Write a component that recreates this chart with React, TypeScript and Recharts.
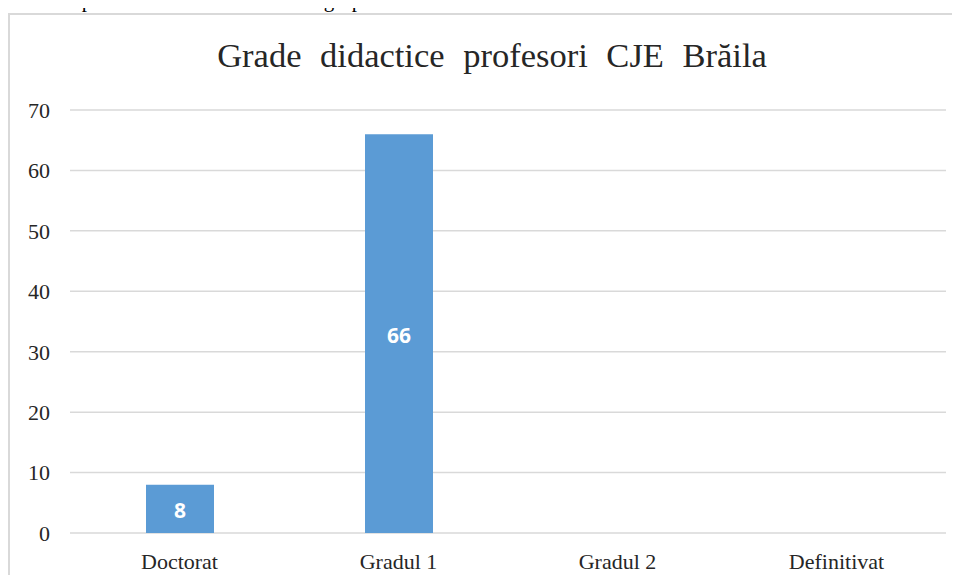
import React from "react";
import { BarChart, Bar, XAxis, YAxis, CartesianGrid, LabelList } from "recharts";

const categories = ["Doctorat", "Gradul 1", "Gradul 2", "Definitivat"];
const values = [8, 66, 0, 0];
const yTicks = [0, 10, 20, 30, 40, 50, 60, 70];

const data = categories.map((name, i) => ({ name, value: values[i] }));

const serif = "'Liberation Serif', 'Times New Roman', serif";

export default function App() {
  return (
    <div
      style={{
        position: "relative",
        width: 960,
        height: 583,
        margin: -8,
        overflow: "hidden",
        background: "#fff",
      }}
    >
      {/* tail of the paragraph above the chart, cut off by the crop */}
      <div
        style={{
          position: "absolute",
          left: -4,
          top: -12,
          fontFamily: serif,
          fontSize: 21,
          whiteSpace: "nowrap",
          color: "#000",
        }}
      >
        e în cazul profesorilor coordonatori de grupă.
      </div>
      <div
        style={{
          position: "absolute",
          left: 8,
          top: 13,
          width: 1000,
          height: 620,
          border: "2px solid #d9d9d9",
        }}
      />
      <div
        style={{
          position: "absolute",
          left: 0,
          top: 36,
          width: 984,
          textAlign: "center",
          fontFamily: serif,
          fontSize: 34.5,
          color: "#262626",
          wordSpacing: 10,
          whiteSpace: "nowrap",
        }}
      >
        Grade didactice profesori CJE Brăila
      </div>
      <div style={{ position: "absolute", left: 0, top: 0 }}>
        <BarChart
          width={960}
          height={583}
          data={data}
          margin={{ top: 110, right: 14, bottom: 0, left: 0 }}
        >
          <CartesianGrid vertical={false} stroke="#d9d9d9" strokeWidth={1.5} />
          <XAxis
            dataKey="name"
            axisLine={false}
            tickLine={false}
            tickMargin={14}
            height={50}
            tick={{ fill: "#262626", fontFamily: serif, fontSize: 22 }}
          />
          <YAxis
            domain={[0, 70]}
            ticks={yTicks}
            width={70}
            axisLine={false}
            tickLine={false}
            tickMargin={14}
            tick={{ fill: "#262626", fontFamily: serif, fontSize: 22 }}
          />
          <Bar dataKey="value" fill="#5b9bd5" barSize={68} isAnimationActive={false}>
            <LabelList
              dataKey="value"
              position="center"
              offset={0}
              formatter={(v: any) => (v ? v : "")}
              fill="#fff"
              dy={2}
              style={{ fontFamily: "'Open Sans', sans-serif", fontWeight: 700, fontSize: 21 }}
            />
          </Bar>
        </BarChart>
      </div>
    </div>
  );
}
